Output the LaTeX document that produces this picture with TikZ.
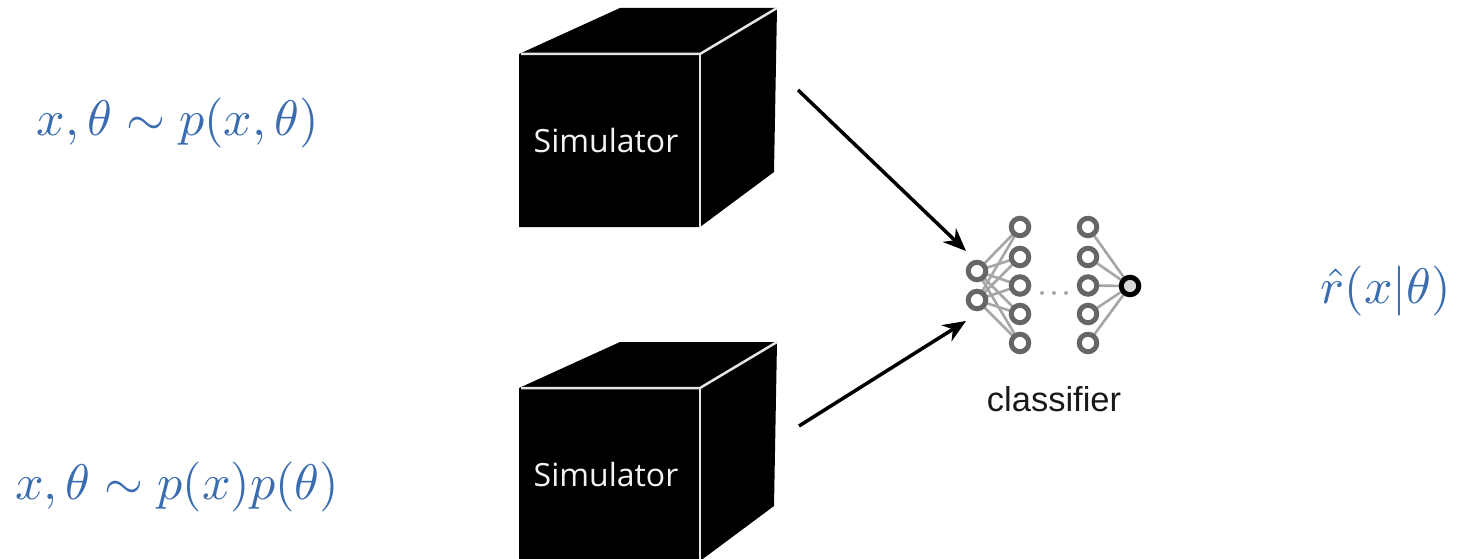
\documentclass[tikz,border=0pt]{standalone}
\usepackage{fontspec}
\usepackage{graphicx}
\setmainfont{Liberation Sans}
\newfontfamily\simfont{Open Sans}
\usetikzlibrary{arrows.meta}
\definecolor{mathblue}{HTML}{3A6CB0}
\definecolor{neuron}{HTML}{666666}
\definecolor{synapse}{HTML}{A6A6A6}
\tikzset{
  mathlabel/.style={text=mathblue,inner sep=0pt},
  neu/.style={circle,draw=neuron,line width=5pt,fill=white,minimum size=17.5pt,inner sep=0pt},
  outneu/.style={circle,draw=black,line width=5pt,fill=black!15,minimum size=17.5pt,inner sep=0pt},
  syn/.style={draw=synapse,line width=2.6pt},
  flow/.style={draw=black,line width=3.5pt,-{Stealth[length=23pt,width=19pt]}},
  simlabel/.style={text=white!95!black,inner sep=0pt,font=\simfont\fontsize{32}{38}\selectfont},
  dot/.style={circle,fill=synapse,minimum size=4pt,inner sep=0pt},
}
\newcommand{\simcube}[2]{%
  \begin{scope}[yshift=#1]
    \fill[black] (519,54) -- (620,8) -- (777,8) -- (774,172) -- (700,227) -- (519,227) -- cycle;
    \draw[white!90!black,line width=2.5pt] (521,54) -- (700,54) -- (777,8);
    \draw[white!90!black,line width=2.5pt] (700,54) -- (700,227);
    \node[simlabel] (#2) at (606,140.5) {Simulator};
  \end{scope}}
\newcommand{\bigmath}[1]{\scalebox{5}{$#1$}}
\begin{document}
\begin{tikzpicture}[x=1pt,y=-1pt]
\useasboundingbox (0,0) rectangle (1459,559);
\begin{scope}
\clip (0,0) rectangle (1459,559);
\simcube{0pt}{simA}
\simcube{-334pt}{simB}
\end{scope}
\node[mathlabel] (m1) at (178,123) {\bigmath{x,\theta\sim p(x,\theta)}};
\node[mathlabel] (m2) at (177,487) {\bigmath{x,\theta\sim p(x)p(\theta)}};
\node[mathlabel] (m3) at (1386,291) {\bigmath{\hat r(x|\theta)}};
% network
\foreach \n/\y in {1/271,2/300}
  \coordinate (i\n) at (977,\y);
\foreach \n/\y in {1/227,2/257,3/285.5,4/314,5/343} {
  \coordinate (h\n) at (1020,\y);
  \coordinate (k\n) at (1088,\y);
}
\coordinate (o) at (1130,286);
\foreach \a in {1,2} \foreach \b in {1,...,5} \draw[syn] (i\a) -- (h\b);
\foreach \b in {1,...,5} \draw[syn] (k\b) -- (o);
\foreach \a in {1,2} \node[neu] (ni\a) at (i\a) {};
\foreach \b in {1,...,5} {\node[neu] (nh\b) at (h\b) {}; \node[neu] (nk\b) at (k\b) {};}
\node[outneu] (no) at (o) {};
\node[dot] (d1) at (1042,293) {};
\node[dot] (d2) at (1054,293) {};
\node[dot] (d3) at (1066,293) {};
\node[inner sep=0pt,font=\fontsize{34.5}{40}\selectfont,text=black!90] (cl) at (1054,399) {classifier};
% arrows
\coordinate (a1) at (798,90);
\coordinate (t1) at (966,251);
\coordinate (a2) at (799,426);
\coordinate (t2) at (966,321);
\draw[flow] (a1) -- (t1);
\draw[flow] (a2) -- (t2);
\end{tikzpicture}
\end{document}
